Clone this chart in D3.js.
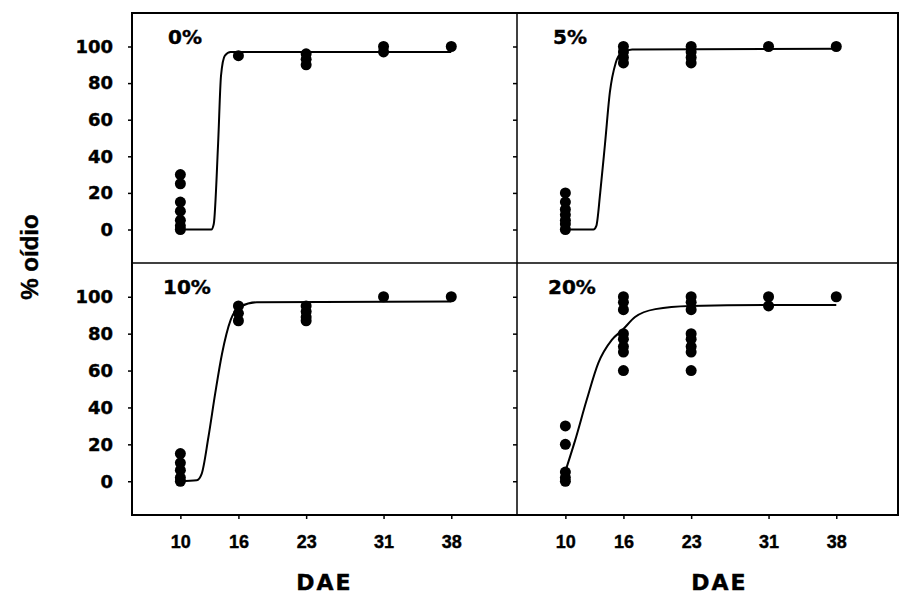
<!DOCTYPE html>
<html>
<head>
<meta charset="utf-8">
<script src="https://cdn.jsdelivr.net/npm/d3@7"></script>
<style>
  body { margin: 0; background: #fff; }
  svg { display: block; }
  .tick line { stroke: #000; stroke-width: 1.5; }
  text { stroke: #000; stroke-width: 0.4; }
</style>
</head>
<body>
<svg id="chart" width="900" height="596"></svg>
<script>
// sampling days (DAE) shown on the x axis
const dae = [10, 16, 23, 31, 38];
const yTicks = [0, 20, 40, 60, 80, 100];
const panelLabels = ['0%', '5%', '10%', '20%'];

// observed % oidio, one entry per DAE: [day, values...]
const obs0 = [[10, [30, 25, 15, 10, 5, 2, 0]], [16, [95]], [23, [96, 93, 90]], [31, [100, 97]], [38, [100]]];
const obs5 = [[10, [20, 15, 11, 8, 5, 3, 0]], [16, [100, 97, 94, 91]], [23, [100, 97, 94, 91]], [31, [100]], [38, [100]]];
const obs10 = [[10, [15, 10, 6, 2, 0]], [16, [95, 91, 87]], [23, [95, 92, 89, 87]], [31, [100]], [38, [100]]];
const obs20 = [[10, [30, 20, 5, 2, 0]], [16, [100, 97, 93, 80, 77, 73, 70, 60]], [23, [100, 97, 93, 80, 77, 73, 70, 60]], [31, [100, 95]], [38, [100]]];

// fitted curves as [day, %]
const fit0 = [[10, 0], [13.2, 0], [13.45, 3], [13.9, 47], [14.2, 84], [14.6, 95], [15.2, 97], [38, 97]];
const fit5 = [[10, 0], [12.9, 0], [13.2, 2], [13.6, 20], [14.1, 47], [14.6, 75], [15.2, 91], [15.8, 96.5], [16.9, 98.4], [38, 98.7]];
const fit10 = [[10, 0], [11.7, 0.5], [12.2, 4], [12.9, 24], [13.6, 47.6], [14.3, 69], [15.2, 87.5], [16.2, 94.7], [17.9, 97], [38, 97.4]];
const fit20 = [[10.1, 7], [11, 22], [12.2, 44], [13.4, 64], [14.8, 76.6], [15.9, 82], [17.2, 89], [19.3, 93.3], [22.9, 95], [31, 95.5], [38, 95.5]];

const observed = [obs0, obs5, obs10, obs20];
const fitted = [fit0, fit5, fit10, fit20];

document.addEventListener('DOMContentLoaded', () => {
  const svg = d3.select('#chart');

  /* frame layout */
  const colX = [132, 517, 898];
  const rowY = [13, 263, 515];

  panelLabels.forEach((lab, i) => {
    const col = i % 2;
    const row = Math.floor(i / 2);
    const left = colX[col];
    const top = rowY[row];
    const bottom = rowY[row + 1];

    const x = d3.scaleLinear().domain([5, 45]).range([left, left + 387]);
    const y = d3.scaleLinear().domain([-18.3, 118.3]).range([bottom, top]);

    const g = svg.append('g').attr('class', 'panel');

    // y axis ticks (labels only on left column)
    const yAxis = g.append('g')
      .attr('transform', `translate(${left},0)`)
      .call(d3.axisLeft(y).tickValues(yTicks).tickSize(4).tickPadding(15)
        .tickFormat(col === 0 ? d3.format('d') : () => ''));
    yAxis.select('.domain').remove();
    yAxis.selectAll('text')
      .attr('font-family', '"DejaVu Sans", sans-serif')
      .attr('font-weight', 'bold')
      .attr('font-size', 18)
      .attr('fill', '#000');

    // x axis on bottom row
    if (row === 1) {
      const xAxis = g.append('g')
        .attr('transform', `translate(0,${bottom})`)
        .call(d3.axisBottom(x).tickValues(dae).tickSize(4).tickPadding(16));
      xAxis.select('.domain').remove();
      xAxis.selectAll('text')
        .attr('font-family', '"Liberation Sans", Arial, sans-serif')
        .attr('font-weight', 'bold')
        .attr('font-size', 18)
        .attr('fill', '#000');

      g.append('text')
        .attr('x', (left + colX[col + 1]) / 2 + (col === 1 ? 12 : 0))
        .attr('y', 590)
        .attr('text-anchor', 'middle')
        .attr('font-family', '"DejaVu Sans", sans-serif')
        .attr('font-weight', 'bold')
        .attr('font-size', 22)
        .attr('letter-spacing', 2)
        .text('DAE');
    }

    // fitted curve
    const line = d3.line()
      .x(d => x(d[0]))
      .y(d => y(d[1]))
      .curve(d3.curveMonotoneX);

    g.append('path')
      .datum(fitted[i])
      .attr('fill', 'none')
      .attr('stroke', '#000')
      .attr('stroke-width', 2)
      .attr('d', line);

    // observed points
    const pts = observed[i].flatMap(([d, vals]) => vals.map(v => ({ d, v })));
    g.append('g')
      .selectAll('circle')
      .data(pts)
      .enter()
      .append('circle')
        .attr('cx', p => x(p.d))
        .attr('cy', p => y(p.v))
        .attr('r', 5.5)
        .attr('fill', '#000');

    // panel label
    g.append('text')
      .attr('x', left + (row === 0 ? 36 : 31))
      .attr('y', top + 31)
      .attr('font-family', '"DejaVu Sans", sans-serif')
      .attr('font-weight', 'bold')
      .attr('font-size', 20)
      .text(lab);
  });

  /* frame and dividers */
  svg.append('rect')
    .attr('x', colX[0])
    .attr('y', rowY[0])
    .attr('width', colX[2] - colX[0])
    .attr('height', rowY[2] - rowY[0])
    .attr('fill', 'none')
    .attr('stroke', '#000')
    .attr('stroke-width', 2);

  svg.append('line')
    .attr('x1', colX[1]).attr('x2', colX[1])
    .attr('y1', rowY[0]).attr('y2', rowY[2])
    .attr('stroke', '#000').attr('stroke-width', 1.5);

  svg.append('line')
    .attr('x1', colX[0]).attr('x2', colX[2])
    .attr('y1', rowY[1]).attr('y2', rowY[1])
    .attr('stroke', '#000').attr('stroke-width', 1.5);

  // y axis title
  svg.append('text')
    .attr('transform', 'translate(38,257) rotate(-90)')
    .attr('text-anchor', 'middle')
    .attr('font-family', '"Liberation Sans", Arial, sans-serif')
    .attr('font-weight', 'bold')
    .attr('font-size', 24)
    .text('% oídio');
});
</script>
</body>
</html>
